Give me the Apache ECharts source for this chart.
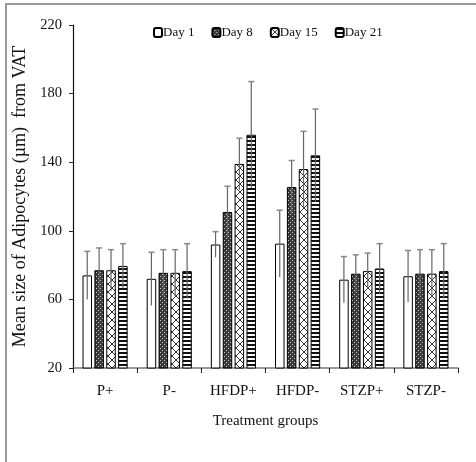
<!DOCTYPE html>
<html lang="en" style="height: 100%">
<head>
  <meta charset="utf-8">
</head>
<body style="height: 100%; margin: 0; background: #fff">
  <div id="container" style="width: 476px; height: 462px"></div>

  <script type="text/javascript" src="https://cdn.jsdelivr.net/npm/echarts@6/dist/echarts.min.js"></script>

  <script type="text/javascript">
    // groups and days
    var groups = ['P+', 'P-', 'HFDP+', 'HFDP-', 'STZP+', 'STZP-'];
    var days = ['Day 1', 'Day 8', 'Day 15', 'Day 21'];

    // mean adipocyte size per day (one value per group)
    var day1 = [74, 72, 92, 92.5, 71.5, 73.5];
    var day8 = [77, 75.5, 111, 125.5, 75, 75];
    var day15 = [77, 75.5, 139, 136, 76.5, 75];
    var day21 = [79.5, 76.5, 156, 144, 78, 76.5];

    // standard deviations
    var sd1 = [14, 15.5, 7.5, 19.5, 13.5, 15];
    var sd8 = [13, 13.5, 15, 15.5, 11, 14];
    var sd15 = [12, 13.5, 15, 22, 10.5, 14];
    var sd21 = [13, 16, 31, 27, 14.5, 16];

    var yTicks = [20, 60, 100, 140, 180, 220];

    var means = [day1, day8, day15, day21];
    var sds = [sd1, sd8, sd15, sd21];

    // hatch patterns drawn on small canvases
    function makePattern(w, h, draw) {
      var c = document.createElement('canvas');
      c.width = w; c.height = h;
      var ctx = c.getContext('2d');
      draw(ctx, w, h);
      return { image: c, repeat: 'repeat' };
    }
    var fills = [
      '#ffffff',
      makePattern(4, 4, function (ctx) {
        ctx.fillStyle = '#3a3a3a';
        ctx.fillRect(0, 0, 4, 4);
        ctx.fillStyle = '#c8c8c8';
        ctx.fillRect(0, 0, 1, 1);
        ctx.fillRect(2, 2, 1, 1);
      }),
      makePattern(8, 8, function (ctx) {
        ctx.fillStyle = '#fff';
        ctx.fillRect(0, 0, 8, 8);
        ctx.strokeStyle = '#333';
        ctx.lineWidth = 1;
        ctx.beginPath();
        ctx.moveTo(0, 0); ctx.lineTo(8, 8);
        ctx.moveTo(8, 0); ctx.lineTo(0, 8);
        ctx.stroke();
      }),
      makePattern(4, 4, function (ctx) {
        ctx.fillStyle = '#fff';
        ctx.fillRect(0, 0, 4, 4);
        ctx.fillStyle = '#111';
        ctx.fillRect(0, 0, 4, 2);
      })
    ];

    var barW = 9.5;
    var step = 11.9;

    var series = [];
    days.forEach(function (d, i) {
      series.push({
        name: d,
        type: 'bar',
        data: means[i],
        barWidth: barW,
        barGap: '25%',
        barCategoryGap: '30%',
        itemStyle: { color: fills[i], borderColor: '#000', borderWidth: 1 }
      });
    });
    days.forEach(function (d, i) {
      series.push({
        name: d + ' sd',
        type: 'custom',
        z: 5,
        data: groups.map(function (g, k) { return [k, means[i][k], sds[i][k]]; }),
        renderItem: function (params, api) {
          var off = (i - 1.5) * step;
          var top = api.coord([api.value(0), api.value(1) + api.value(2)]);
          var bot = api.coord([api.value(0), api.value(1) - api.value(2)]);
          var x = top[0] + off;
          return {
            type: 'group',
            children: [
              { type: 'line', shape: { x1: x, y1: top[1], x2: x, y2: bot[1] },
                style: { stroke: '#666', lineWidth: 1.2 } },
              { type: 'line', shape: { x1: x - 3, y1: top[1], x2: x + 3, y2: top[1] },
                style: { stroke: '#888', lineWidth: 1.5 } }
            ]
          };
        }
      });
    });

    var dom = document.getElementById('container');
    var myChart = echarts.init(dom, null, { renderer: 'canvas' });
    var font = 'Liberation Serif';

    var option = {
      animation: false,
      textStyle: { fontFamily: font },
      graphic: [{
        type: 'rect',
        shape: { x: 6, y: 4, width: 520, height: 520 },
        style: { fill: 'none', stroke: '#999', lineWidth: 2 },
        silent: true
      }],
      legend: {
        data: days,
        left: 148,
        top: 21,
        itemWidth: 8,
        itemHeight: 9,
        itemGap: 17,
        textStyle: { fontFamily: font, fontSize: 13, color: '#111', padding: [0, 0, 0, -4] }
      },
      grid: { left: 73, right: 18, top: 25, bottom: 94 },
      xAxis: {
        type: 'category',
        data: groups,
        name: 'Treatment groups',
        nameLocation: 'middle',
        nameGap: 46,
        nameTextStyle: { fontFamily: font, fontSize: 15, color: '#111' },
        axisLine: { lineStyle: { color: '#777', width: 1.5 } },
        axisTick: { show: true, length: 5, lineStyle: { color: '#222' } },
        axisLabel: { fontFamily: font, fontSize: 15, color: '#111', margin: 16 }
      },
      yAxis: {
        type: 'value',
        min: yTicks[0],
        max: yTicks[yTicks.length - 1],
        interval: 40,
        name: 'Mean size of Adipocytes (\u00b5m)  from VAT',
        nameLocation: 'middle',
        nameGap: 34,
        nameTextStyle: { fontFamily: font, fontSize: 18, color: '#111' },
        splitLine: { show: false },
        axisLine: { show: true, lineStyle: { color: '#111', width: 1.2 } },
        axisTick: { show: true, length: 4, lineStyle: { color: '#222' } },
        axisLabel: { fontFamily: font, fontSize: 14.5, color: '#111', margin: 11 }
      },
      series: series
    };

    myChart.setOption(option);
    window.addEventListener('resize', myChart.resize);
  </script>
</body>
</html>
